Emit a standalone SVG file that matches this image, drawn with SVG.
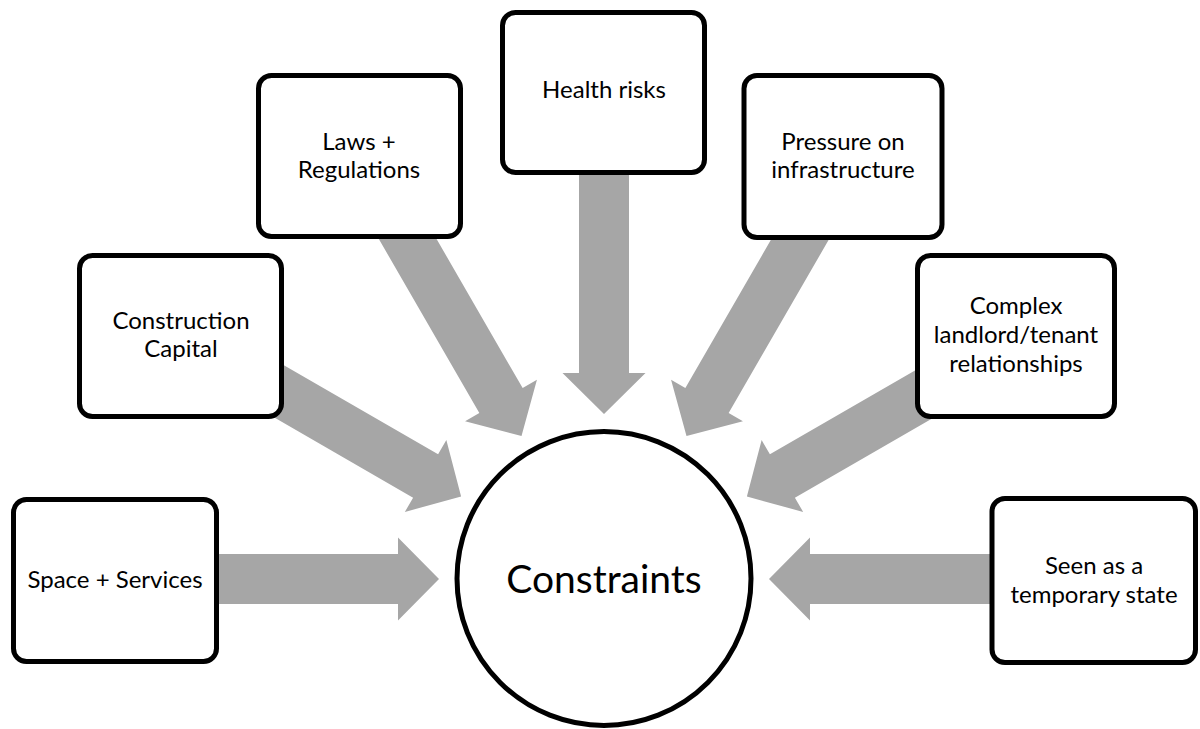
<svg xmlns="http://www.w3.org/2000/svg" width="1200" height="729" viewBox="0 0 1200 729">
<defs>
<style>
.box{fill:#ffffff;stroke:#000000;stroke-width:5}
.arrow{fill:#a6a6a6;stroke:none}
.lbl{font-family:Lato,"Open Sans","Liberation Sans",sans-serif;font-size:24px;fill:#000000;text-anchor:middle}
.big{font-family:Lato,"Open Sans","Liberation Sans",sans-serif;font-size:39px;fill:#000000;text-anchor:middle}
</style>
<polygon id="arr" points="-420,-25 -206,-25 -206,-41.5 -165,0 -206,41.5 -206,25 -420,25"/>
</defs>
<g id="connectors" transform="translate(604,579)">
<use href="#arr" class="arrow"/>
<use href="#arr" class="arrow" transform="rotate(30)"/>
<use href="#arr" class="arrow" transform="rotate(60)"/>
<use href="#arr" class="arrow" transform="rotate(90)"/>
<use href="#arr" class="arrow" transform="rotate(120)"/>
<use href="#arr" class="arrow" transform="rotate(150)"/>
<use href="#arr" class="arrow" transform="rotate(180)"/>
</g>
<g id="space-services">
<rect class="box" x="13.5" y="499.5" width="203" height="162" rx="13"/>
<text class="lbl" x="115" y="588">Space + Services</text>
</g>
<g id="construction-capital">
<rect class="box" x="79.5" y="255.5" width="202" height="161" rx="13"/>
<text class="lbl" x="181" y="329">Construction</text>
<text class="lbl" x="181" y="357">Capital</text>
</g>
<g id="laws-regulations">
<rect class="box" x="258.5" y="75.5" width="202" height="161" rx="13"/>
<text class="lbl" x="359" y="150">Laws +</text>
<text class="lbl" x="359" y="178">Regulations</text>
</g>
<g id="health-risks">
<rect class="box" x="502.5" y="12.5" width="202" height="160" rx="13"/>
<text class="lbl" x="604" y="98">Health risks</text>
</g>
<g id="pressure-infrastructure">
<rect class="box" x="744" y="75.5" width="198" height="162" rx="13"/>
<text class="lbl" x="843" y="150">Pressure on</text>
<text class="lbl" x="843" y="178">infrastructure</text>
</g>
<g id="complex-relationships">
<rect class="box" x="917.5" y="255.5" width="197" height="161" rx="13"/>
<text class="lbl" x="1016" y="314">Complex</text>
<text class="lbl" x="1016" y="343">landlord/tenant</text>
<text class="lbl" x="1016" y="372">relationships</text>
</g>
<g id="temporary-state">
<rect class="box" x="992" y="498.5" width="203.5" height="164" rx="13"/>
<text class="lbl" x="1094" y="574">Seen as a</text>
<text class="lbl" x="1094" y="603">temporary state</text>
</g>
<g id="constraints">
<circle class="box" cx="604" cy="578.5" r="147"/>
<text class="big" x="604" y="593">Constraints</text>
</g>
</svg>
